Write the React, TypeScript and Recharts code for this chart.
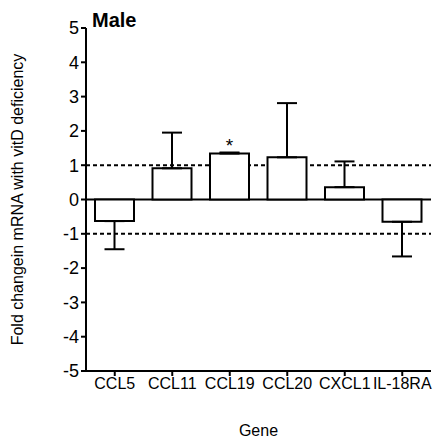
import React from 'react';
import { BarChart, Bar, XAxis, YAxis, ErrorBar, ReferenceLine, LabelList, Label } from 'recharts';

const genes = ['CCL5', 'CCL11', 'CCL19', 'CCL20', 'CXCL1', 'IL-18RA'];
const foldChange = [-0.63, 0.91, 1.34, 1.23, 0.36, -0.65];
const errLower = [0.82, 0, 0, 0, 0, 1.01];
const errUpper = [0, 1.04, 0.03, 1.58, 0.75, 0];
const significance = ['', '', '*', '', '', ''];
const yTicks = [-5, -4, -3, -2, -1, 0, 1, 2, 3, 4, 5];
const thresholds = [1, -1];

const data = genes.map((g, i) => ({
  gene: g,
  value: foldChange[i],
  err: [errLower[i], errUpper[i]],
  sig: significance[i],
}));

const FONT = '"Liberation Sans", Arial, sans-serif';

export default function App() {
  return (
    <div style={{ position: 'absolute', left: 0, top: 0, width: 434, height: 440, background: '#fff' }}>
      <BarChart
        width={434}
        height={440}
        data={data}
        margin={{ top: 28, right: 3, bottom: 0, left: 0 }}
        style={{ fontFamily: FONT }}
      >
        {thresholds.map((t) => (
          <ReferenceLine key={t} y={t} stroke="#000" strokeWidth={2} strokeDasharray="4 3" zIndex={100} />
        ))}
        <ReferenceLine y={0} stroke="#000" strokeWidth={2} zIndex={100} />
        <XAxis
          dataKey="gene"
          height={69}
          interval={0}
          tick={{ fill: '#000', fontSize: 16, fontFamily: FONT }}
          tickSize={5}
          axisLine={{ stroke: '#000', strokeWidth: 2 }}
          tickLine={{ stroke: '#000', strokeWidth: 2 }}
        >
          <Label
            content={(props: any) => {
              const vb = props.viewBox;
              return (
                <text x={vb.x + vb.width / 2} y={vb.y + 65} textAnchor="middle" fontSize={16} fontFamily={FONT} fill="#000">
                  Gene
                </text>
              );
            }}
          />
        </XAxis>
        <YAxis
          width={86}
          domain={[-5, 5]}
          ticks={yTicks}
          interval={0}
          allowDataOverflow
          tick={{ fill: '#000', fontSize: 18, fontFamily: FONT }}
          tickSize={5}
          axisLine={{ stroke: '#000', strokeWidth: 2 }}
          tickLine={{ stroke: '#000', strokeWidth: 2 }}
        >
          <Label
            content={(props: any) => {
              const vb = props.viewBox;
              const cx = vb.x + 17;
              const cy = vb.y + vb.height / 2;
              return (
                <text
                  x={cx}
                  y={cy}
                  transform={`rotate(-90 ${cx} ${cy})`}
                  textAnchor="middle"
                  dominantBaseline="central"
                  fontSize={16}
                  fontFamily={FONT}
                  fill="#000"
                >
                  Fold changein mRNA with vitD deficiency
                </text>
              );
            }}
          />
        </YAxis>
        <Bar dataKey="value" fill="#fff" stroke="#000" strokeWidth={2} barSize={39} isAnimationActive={false} zIndex={300}>
          <ErrorBar dataKey="err" width={10} stroke="#000" strokeWidth={2} direction="y" />
          <LabelList dataKey="sig" position="top" offset={2} fill="#000" fontSize={19} fontFamily={FONT} />
        </Bar>
      </BarChart>
      <svg width={434} height={440} style={{ position: 'absolute', left: 0, top: 0, pointerEvents: 'none' }}>
        <text x={92} y={27} fontSize={20} fontWeight="bold" fontFamily={FONT} fill="#000">
          Male
        </text>
      </svg>
    </div>
  );
}
